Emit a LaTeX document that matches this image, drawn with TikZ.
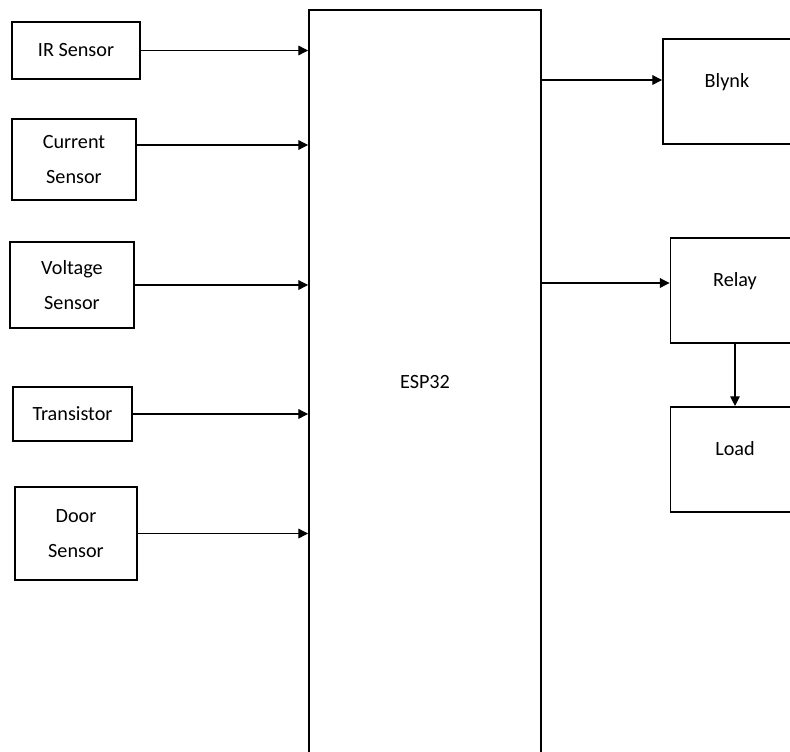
\documentclass[tikz,border=0pt]{standalone}
\usepackage{fontspec}
\setmainfont{Carlito}
\usepackage{tikz}
\usetikzlibrary{arrows.meta, positioning, calc}

\begin{document}
\begin{tikzpicture}[
    x=0.02cm, y=-0.02cm,
    font=\fontsize{11.5}{20}\selectfont,
    inbox/.style={draw, line width=1.1pt, align=center, inner sep=2pt},
    outbox/.style={draw, line width=1.1pt, minimum width=2.58cm, minimum height=2.1cm, text height=8pt, text depth=12.5pt},
    mcu/.style={draw, line width=1.1pt, minimum width=4.64cm, minimum height=14.88cm},
    sig/.style={-{Triangle[length=5.5pt, width=5.5pt]}, line width=0.6pt},
]

% --- Frame (boxes run past the right and lower edge) ---
\useasboundingbox (0,0) rectangle (790,751);
\clip (0,0) rectangle (790,751);

% --- Controller ---
\node[mcu] (esp) at (425,382) {ESP32};

% --- Inputs ---
\node[inbox, minimum width=2.56cm, minimum height=1.14cm] (ir) at (76,50.5) {IR Sensor};
\node[inbox, minimum width=2.48cm, minimum height=1.62cm] (cur) at (74,159.5) {Current\\Sensor};
\node[inbox, minimum width=2.48cm, minimum height=1.72cm] (volt) at (72,285) {Voltage\\Sensor};
\node[inbox, minimum width=2.38cm, minimum height=1.08cm] (trans) at (72.5,414) {Transistor};
\node[inbox, minimum width=2.44cm, minimum height=1.86cm] (door) at (76,533.5) {Door\\Sensor};

% --- Outputs ---
\node[outbox, minimum width=2.56cm] (blynk) at (727,91.5) {Blynk};
\node[outbox] (relay) at (735,290.5) {Relay};
\node[outbox, below=1.24cm of relay] (load) {Load};

% --- Inputs into the ESP32 ---
\coordinate (curin) at ($(cur.east)+(0,-14.5)$);
\draw[sig] (ir.east) -- (ir.east -| esp.west);
\draw[sig] (curin) -- (curin -| esp.west);
\draw[sig] (volt.east) -- (volt.east -| esp.west);
\draw[sig] (trans.east) -- (trans.east -| esp.west);
\draw[sig] (door.east) -- (door.east -| esp.west);

% --- ESP32 out to Blynk and relay ---
\coordinate (blynkin) at ($(blynk.west)+(0,-11.5)$);
\coordinate (relayin) at ($(relay.west)+(0,-7.5)$);
\draw[sig] (blynkin -| esp.east) -- (blynkin);
\draw[sig] (relayin -| esp.east) -- (relayin);

% --- Relay switches the load ---
\draw[sig] (relay.south) -- (load.north);

\end{tikzpicture}
\end{document}
